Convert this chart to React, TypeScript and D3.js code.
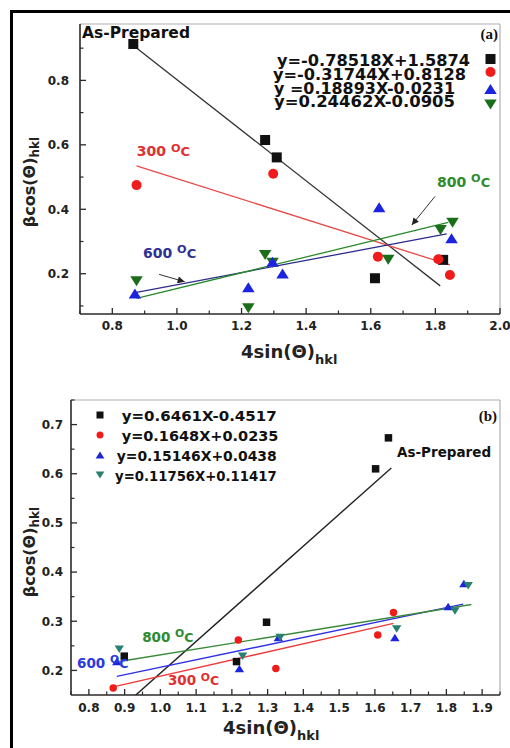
import React from 'react';
import * as d3 from 'd3';

const FONT = '"DejaVu Sans", Verdana, sans-serif';

// ---------------- Panel (a) data ----------------
const aAsPreparedX = [0.865, 1.273, 1.309, 1.613, 1.824];
const aAsPreparedY = [0.913, 0.615, 0.561, 0.186, 0.243];
const a300X = [0.875, 1.298, 1.622, 1.809, 1.845];
const a300Y = [0.475, 0.51, 0.253, 0.245, 0.196];
const a600X = [0.87, 1.221, 1.296, 1.327, 1.626, 1.85];
const a600Y = [0.139, 0.158, 0.237, 0.201, 0.406, 0.31];
const a800X = [0.875, 1.221, 1.273, 1.296, 1.654, 1.816, 1.853];
const a800Y = [0.177, 0.093, 0.258, 0.234, 0.243, 0.336, 0.358];
const aFitSlope = [-0.78518, -0.31744, 0.18893, 0.24462];
const aFitIntercept = [1.5874, 0.8128, -0.0231, -0.0905];
const aFitXStart = [0.865, 0.875, 0.875, 0.875];
const aFitXEnd = [1.815, 1.845, 1.835, 1.84];
const aLegend = ['y=-0.78518X+1.5874', 'y=-0.31744X+0.8128', 'y =0.18893X-0.0231', 'y=0.24462X-0.0905'];
const aXTicks = [0.8, 1.0, 1.2, 1.4, 1.6, 1.8, 2.0];
const aXMinor = [0.7, 0.9, 1.1, 1.3, 1.5, 1.7, 1.9];
const aYTicks = [0.2, 0.4, 0.6, 0.8];
const aYMinor = [0.1, 0.3, 0.5, 0.7, 0.9];

// ---------------- Panel (b) data ----------------
const bAsPreparedX = [0.899, 1.213, 1.297, 1.602, 1.638];
const bAsPreparedY = [0.229, 0.218, 0.298, 0.61, 0.673];
const b300X = [0.868, 1.218, 1.323, 1.608, 1.652];
const b300Y = [0.164, 0.262, 0.204, 0.272, 0.318];
const b600X = [0.878, 1.221, 1.33, 1.656, 1.805, 1.849];
const b600Y = [0.218, 0.204, 0.267, 0.267, 0.33, 0.377];
const b800X = [0.885, 1.23, 1.335, 1.661, 1.824, 1.861];
const b800Y = [0.243, 0.229, 0.267, 0.284, 0.321, 0.372];
const bFitSlope = [0.6461, 0.1648, 0.15146, 0.11756];
const bFitIntercept = [-0.4517, 0.0235, 0.055, 0.11417];
const bFitXStart = [0.9, 0.868, 0.878, 0.885];
const bFitXEnd = [1.646, 1.652, 1.847, 1.87];
const bLegend = ['y=0.6461X-0.4517', 'y=0.1648X+0.0235', 'y=0.15146X+0.0438', 'y=0.11756X+0.11417'];
const bXTicks = [0.8, 0.9, 1.0, 1.1, 1.2, 1.3, 1.4, 1.5, 1.6, 1.7, 1.8, 1.9];
const bXMinor = [0.75, 0.85, 0.95, 1.05, 1.15, 1.25, 1.35, 1.45, 1.55, 1.65, 1.75, 1.85, 1.95];
const bYTicks = [0.2, 0.3, 0.4, 0.5, 0.6, 0.7];
const bYMinor = [0.25, 0.35, 0.45, 0.55, 0.65, 0.75];

const SHAPES = ['square', 'circle', 'up', 'down'];

function Marker({ shape, cx, cy, s, color }: any) {
  if (shape === 'square') return <rect x={cx - s / 2} y={cy - s / 2} width={s} height={s} fill={color} />;
  if (shape === 'circle') return <circle cx={cx} cy={cy} r={s / 2} fill={color} />;
  const w = s * 1.25;
  const h = s * 1.0;
  if (shape === 'up')
    return <path d={`M${cx - w / 2},${cy + h / 2}L${cx + w / 2},${cy + h / 2}L${cx},${cy - h / 2}Z`} fill={color} />;
  return <path d={`M${cx - w / 2},${cy - h / 2}L${cx + w / 2},${cy - h / 2}L${cx},${cy + h / 2}Z`} fill={color} />;
}

function DegLabel({ x, y, num, color, size }: any) {
  return (
    <text x={x} y={y} fill={color} fontFamily={FONT} fontWeight="bold" fontSize={size}>
      <tspan>{num} </tspan>
      <tspan dy={-4.5} fontSize={size * 0.8}>O</tspan>
      <tspan dy={4.5} fontSize={size * 0.93}>C</tspan>
    </text>
  );
}

function Panel(p: any) {
  const { xs, ys, series, fits, xTicks, xMinor, yTicks, yMinor, id, ms, yLabGap, xLabOff, fitColors, fitWidth } = p;
  const [x0, x1] = xs.range();
  const [y0, y1] = ys.range();
  const fmt = d3.format('.1f');
  const line = d3.line<[number, number]>().x((d) => xs(d[0])).y((d) => ys(d[1]));
  return (
    <g>
      <defs>
        <clipPath id={id}>
          <rect x={x0} y={y1} width={x1 - x0} height={y0 - y1} />
        </clipPath>
      </defs>
      <line x1={x0} y1={y1} x2={x1} y2={y1} stroke="#b0b0b0" strokeWidth={1.2} />
      <line x1={x1} y1={y1} x2={x1} y2={y0} stroke="#b0b0b0" strokeWidth={1.2} />
      <g clipPath={`url(#${id})`}>
        {fits.slope.map((m: number, i: number) => {
          const pts: [number, number][] = [
            [fits.xs[i], m * fits.xs[i] + fits.b[i]],
            [fits.xe[i], m * fits.xe[i] + fits.b[i]],
          ];
          return <path key={i} d={line(pts) || ''} stroke={fitColors[i]} strokeWidth={fitWidth} fill="none" />;
        })}
      </g>
      {series.map((s: any, si: number) =>
        s.x.map((v: number, i: number) => (
          <Marker key={si + '-' + i} shape={s.shape} cx={xs(v)} cy={ys(s.y[i])} s={ms} color={s.color} />
        ))
      )}
      <line x1={x0} y1={y0} x2={x1} y2={y0} stroke="#2a2a2a" strokeWidth={1.6} />
      <line x1={x0} y1={y0} x2={x0} y2={y1} stroke="#2a2a2a" strokeWidth={1.6} />
      {xTicks.map((t: number) => (
        <g key={'xt' + t}>
          <line x1={xs(t)} x2={xs(t)} y1={y0} y2={y0 - 6} stroke="#2a2a2a" strokeWidth={1.3} />
          <text x={xs(t)} y={y0 + xLabOff} textAnchor="middle" fontFamily={FONT} fontWeight="bold" fontSize={12} fill="#222">
            {fmt(t)}
          </text>
        </g>
      ))}
      {xMinor.map((t: number) => (
        <line key={'xm' + t} x1={xs(t)} x2={xs(t)} y1={y0} y2={y0 - 3.5} stroke="#2a2a2a" strokeWidth={1.2} />
      ))}
      {yTicks.map((t: number) => (
        <g key={'yt' + t}>
          <line x1={x0} x2={x0 + 6} y1={ys(t)} y2={ys(t)} stroke="#2a2a2a" strokeWidth={1.3} />
          <text x={x0 - yLabGap} y={ys(t)} dy="0.36em" textAnchor="end" fontFamily={FONT} fontWeight="bold" fontSize={12} fill="#222">
            {fmt(t)}
          </text>
        </g>
      ))}
      {yMinor.map((t: number) => (
        <line key={'ym' + t} x1={x0} x2={x0 + 3.5} y1={ys(t)} y2={ys(t)} stroke="#2a2a2a" strokeWidth={1.2} />
      ))}
    </g>
  );
}

function XTitle({ x, y }: any) {
  return (
    <text x={x} y={y} fontFamily={FONT} fontWeight="bold" fontSize={18} fill="#222">
      <tspan>4sin(Θ)</tspan>
      <tspan dy={6} fontSize={13}>hkl</tspan>
    </text>
  );
}

function YTitle({ x, y }: any) {
  return (
    <text transform={`translate(${x},${y}) rotate(-90)`} textAnchor="middle" fontFamily={FONT} fontWeight="bold" fontSize={16} fill="#222">
      <tspan>βcos(Θ)</tspan>
      <tspan dy={4} fontSize={12}>hkl</tspan>
    </text>
  );
}

export default function App() {
  const xa = d3.scaleLinear().domain([0.7, 2.0]).range([80, 500]);
  const ya = d3.scaleLinear().domain([0.075, 0.975]).range([314, 24]);
  const xb = d3.scaleLinear().domain([0.75, 1.95]).range([71, 500]);
  const yb = d3.scaleLinear().domain([0.15, 0.75]).range([695, 400]);

  const aColors = ['#111111', '#f01c1c', '#1c24e0', '#1a6e1a'];
  const aFitColors = ['#333333', '#e84848', '#2c2c8c', '#2a8a2a'];
  const bColors = ['#111111', '#f01c1c', '#1c24e0', '#2a8070'];
  const bFitColors = ['#222222', '#ee3a3a', '#3030e8', '#3a8a3a'];

  const aSeries = [
    { x: aAsPreparedX, y: aAsPreparedY, shape: 'square', color: aColors[0] },
    { x: a300X, y: a300Y, shape: 'circle', color: aColors[1] },
    { x: a800X, y: a800Y, shape: 'down', color: aColors[3] },
    { x: a600X, y: a600Y, shape: 'up', color: aColors[2] },
  ];
  const bSeries = [
    { x: bAsPreparedX, y: bAsPreparedY, shape: 'square', color: bColors[0] },
    { x: b300X, y: b300Y, shape: 'circle', color: bColors[1] },
    { x: b600X, y: b600Y, shape: 'up', color: bColors[2] },
    { x: b800X, y: b800Y, shape: 'down', color: bColors[3] },
  ];

  const aLegX = [277, 273, 274, 274];
  const aLegW = [193, 193, 181, 181];
  const aLegBase = [65.5, 79.5, 93.5, 107];
  const aLegMarkY = [59, 72, 89, 104.5];
  const bLegX = [121.7, 121.7, 116.7, 115];
  const bLegW = [155, 156.7, 160, 161.7];
  const bLegBase = [421, 441, 461, 481];
  const bLegMarkY = [415, 435, 455, 475];

  return (
    <svg
      width={510}
      height={748}
      style={{ position: 'absolute', left: 0, top: 0, background: '#fff' }}
      xmlns="http://www.w3.org/2000/svg"
    >
      <defs>
        <marker id="arr" viewBox="0 0 10 10" refX={10} refY={5} markerWidth={8} markerHeight={7} orient="auto">
          <path d="M0,0L10,5L0,10Z" fill="#222" />
        </marker>
      </defs>
      <rect x={0} y={0} width={510} height={748} fill="#fff" />
      <rect x={11.5} y={11.5} width={530} height={780} fill="none" stroke="#000" strokeWidth={3} />

      {/* ---------- Panel (a) ---------- */}
      <Panel
        id="clipA"
        xs={xa}
        ys={ya}
        series={aSeries}
        fits={{ slope: aFitSlope, b: aFitIntercept, xs: aFitXStart, xe: aFitXEnd }}
        fitColors={aFitColors}
        fitWidth={1.3}
        xTicks={aXTicks}
        xMinor={aXMinor}
        yTicks={aYTicks}
        yMinor={aYMinor}
        ms={10}
        yLabGap={11}
        xLabOff={16}
      />
      <text x={82} y={37.5} fontFamily={FONT} fontWeight="bold" fontSize={15.5} fill="#111">As-Prepared</text>
      <text x={498} y={38.5} textAnchor="end" fontFamily='"Liberation Serif", "Times New Roman", serif' fontWeight="bold" fontSize={15} fill="#111">(a)</text>
      {aLegend.map((t, i) => (
        <g key={'la' + i}>
          <text x={aLegX[i]} y={aLegBase[i]} textLength={aLegW[i]} lengthAdjust="spacingAndGlyphs" fontFamily={FONT} fontWeight="bold" fontSize={15} fill="#111">
            {t}
          </text>
          <Marker shape={SHAPES[i]} cx={490.5} cy={aLegMarkY[i]} s={10} color={aColors[i]} />
        </g>
      ))}
      <DegLabel x={xa(0.876)} y={ya(0.565)} num="300" color="#e03030" size={14} />
      <DegLabel x={xa(1.805)} y={ya(0.47)} num="800" color="#2e8b2e" size={14} />
      <DegLabel x={xa(0.895)} y={ya(0.249)} num="600" color="#2e3192" size={14} />
      <line x1={xa(1.799)} y1={ya(0.44)} x2={xa(1.727)} y2={ya(0.351)} stroke="#333" strokeWidth={1} markerEnd="url(#arr)" />
      <line x1={xa(0.945)} y1={ya(0.198)} x2={xa(1.024)} y2={ya(0.175)} stroke="#333" strokeWidth={1} markerEnd="url(#arr)" />
      <XTitle x={241} y={358} />
      <YTitle x={35} y={182} />

      {/* ---------- Panel (b) ---------- */}
      <Panel
        id="clipB"
        xs={xb}
        ys={yb}
        series={bSeries}
        fits={{ slope: bFitSlope, b: bFitIntercept, xs: bFitXStart, xe: bFitXEnd }}
        fitColors={bFitColors}
        fitWidth={1.4}
        xTicks={bXTicks}
        xMinor={bXMinor}
        yTicks={bYTicks}
        yMinor={bYMinor}
        ms={7.5}
        yLabGap={8}
        xLabOff={17}
      />
      <text x={xb(1.662)} y={yb(0.635)} fontFamily={FONT} fontWeight="bold" fontSize={13.5} fill="#111">As-Prepared</text>
      <text x={497} y={421} textAnchor="end" fontFamily='"Liberation Serif", "Times New Roman", serif' fontWeight="bold" fontSize={15} fill="#111">(b)</text>
      {bLegend.map((t, i) => (
        <g key={'lb' + i}>
          <Marker shape={SHAPES[i]} cx={100} cy={bLegMarkY[i]} s={7} color={bColors[i]} />
          <text x={bLegX[i]} y={bLegBase[i]} textLength={bLegW[i]} lengthAdjust="spacingAndGlyphs" fontFamily={FONT} fontWeight="bold" fontSize={14} fill="#111">
            {t}
          </text>
        </g>
      ))}
      <DegLabel x={xb(0.767)} y={yb(0.205)} num="600" color="#2a3ae0" size={13.5} />
      <DegLabel x={xb(0.949)} y={yb(0.258)} num="800" color="#2e8b2e" size={13.5} />
      <DegLabel x={xb(1.021)} y={yb(0.17)} num="300" color="#e03030" size={13.5} />
      <XTitle x={223} y={734} />
      <YTitle x={35} y={552} />
    </svg>
  );
}
